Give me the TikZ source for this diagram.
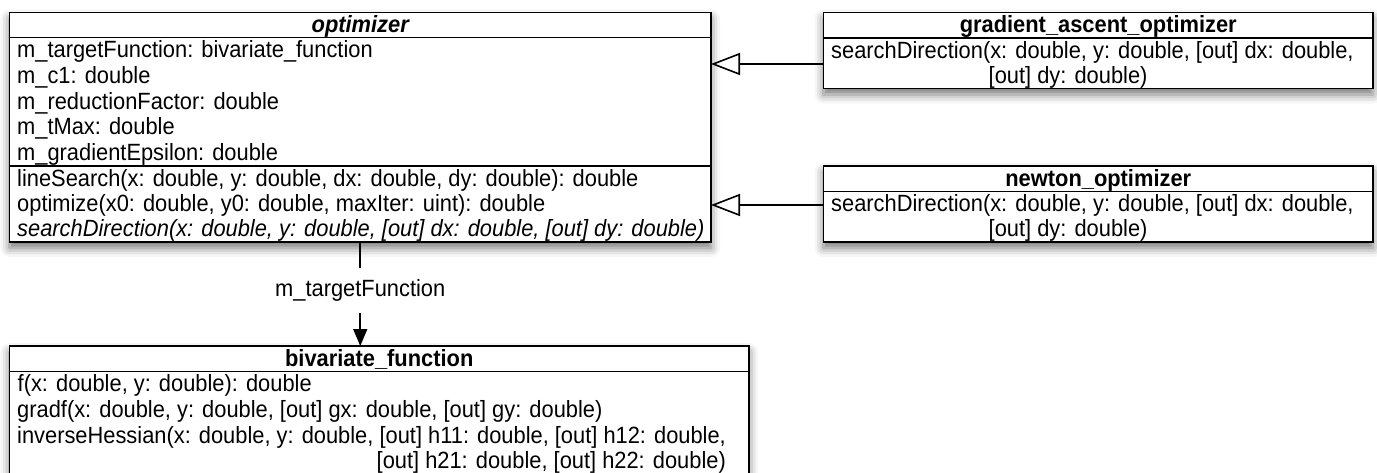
\documentclass[tikz,border=0pt]{standalone}
\usepackage{fontspec}
\setmainfont{Liberation Sans}[FakeStretch=0.93]
\usetikzlibrary{arrows.meta,shadows.blur}
\newcommand\umlsize{\fontsize{23.5}{25.6}\selectfont}
\begin{document}
\begin{tikzpicture}[x=1pt,y=-1pt,
  classbox/.style={draw=black, line width=1.6pt, fill=white, inner sep=0pt, outer sep=0pt, anchor=north west,
    blur shadow={shadow xshift=0pt, shadow yshift=-6pt, shadow blur radius=9pt, shadow opacity=55}},
  sepline/.style={line width=1.6pt},
  txt/.style={anchor=base west, inner sep=0pt, font=\umlsize},
  ttl/.style={anchor=base, inner sep=0pt, font=\umlsize\bfseries},
  gen/.style={line width=1.6pt, -{Triangle[open, length=29pt, width=22pt]}},
  assoc/.style={line width=1.6pt, -{Triangle[length=17pt, width=14pt]}},
]
\path[use as bounding box, clip] (0,0) rectangle (1377,472);

% optimizer
\node[classbox, minimum width=701.5pt, minimum height=229.5pt] (opt) at (9.5,12.5) {};
\draw[sepline] (9.5,37.5) -- (711,37.5);
\draw[sepline] (9.5,166) -- (711,166);
\node[ttl, font=\umlsize\bfseries\itshape] (optT) at (360.25,32.5) {optimizer};
\node[txt] (o1) at (17,57.8) {m\_targetFunction: bivariate\_function};
\node[txt] (o2) at (17,83.4) {m\_c1: double};
\node[txt] (o3) at (17,109) {m\_reductionFactor: double};
\node[txt] (o4) at (17,134.6) {m\_tMax: double};
\node[txt] (o5) at (17,160.2) {m\_gradientEpsilon: double};
\node[txt] (o6) at (17,186.2) {lineSearch(x: double, y: double, dx: double, dy: double): double};
\node[txt] (o7) at (17,211.5) {optimize(x0: double, y0: double, maxIter: uint): double};
\node[txt, font=\umlsize\itshape] (o8) at (17,236.8) {searchDirection(x: double, y: double, [out] dx: double, [out] dy: double)};

% gradient_ascent_optimizer
\node[classbox, minimum width=549.5pt, minimum height=76pt] (grad) at (823.5,12.5) {};
\draw[sepline] (823.5,38) -- (1373,38);
\node[ttl] (gradT) at (1098.25,32.75) {gradient\_ascent\_optimizer};
\node[txt] (g1) at (831,58.1) {searchDirection(x: double, y: double, [out] dx: double,};
\node[txt] (g2) at (988.5,83.4) {[out] dy: double)};

% newton_optimizer
\node[classbox, minimum width=549.5pt, minimum height=76pt] (newt) at (823.5,166) {};
\draw[sepline] (823.5,191.5) -- (1373,191.5);
\node[ttl] (newtT) at (1098.25,186.25) {newton\_optimizer};
\node[txt] (n1) at (831,211.6) {searchDirection(x: double, y: double, [out] dx: double,};
\node[txt] (n2) at (988.5,236.9) {[out] dy: double)};

% bivariate_function
\node[classbox, minimum width=739.5pt, minimum height=128pt] (biv) at (9.5,346) {};
\draw[sepline] (9.5,371.5) -- (749,371.5);
\node[ttl] (bivT) at (379.25,366.25) {bivariate\_function};
\node[txt] (b1) at (17.5,391.8) {f(x: double, y: double): double};
\node[txt] (b2) at (17,417.4) {gradf(x: double, y: double, [out] gx: double, [out] gy: double)};
\node[txt] (b3) at (17,443) {inverseHessian(x: double, y: double, [out] h11: double, [out] h12: double,};
\node[txt] (b4) at (376.5,468.6) {[out] h21: double, [out] h22: double)};

% connectors
\coordinate (ga) at (823.5,64);
\coordinate (na) at (823.5,205);
\draw[gen] (ga) -- (ga -| opt.east);
\draw[gen] (na) -- (na -| opt.east);
\draw[assoc] (opt.south) -- node[pos=0.47, fill=white, inner sep=0pt, minimum height=45pt, font=\umlsize] (lbl) {m\_targetFunction} (opt.south |- biv.north);
\end{tikzpicture}
\end{document}
